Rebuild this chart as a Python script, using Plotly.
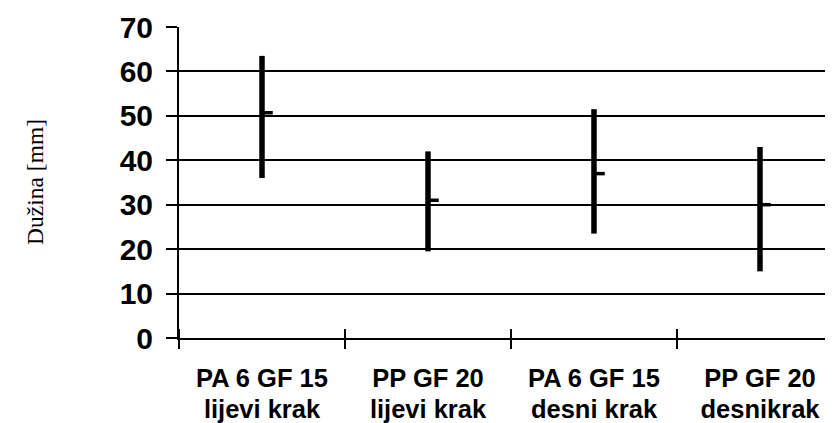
import plotly.graph_objects as go

cat_line1 = ["PA 6 GF 15", "PP GF 20", "PA 6 GF 15", "PP GF 20"]
cat_line2 = ["lijevi krak", "lijevi krak", "desni krak", "desnikrak"]
high = [63.5, 42.0, 51.5, 43.0]
low = [36.0, 19.5, 23.5, 15.0]
close = [50.7, 31.0, 37.0, 30.0]
y_ticks = [0, 10, 20, 30, 40, 50, 60, 70]

pos = list(range(len(cat_line1)))
bounds = [p - 0.5 for p in pos] + [pos[-1] + 0.5]
x_range = [-0.5, 3.488]

# vertical high-low lines built from the data
xs, ys = [], []
for i, (h, l) in enumerate(zip(high, low)):
    xs += [i, i, None]
    ys += [l, h, None]

fig = go.Figure()
fig.add_trace(go.Scatter(x=xs, y=ys, mode="lines",
                         line=dict(color="black", width=5.5),
                         hoverinfo="skip", showlegend=False))
close_offset = 0.027
fig.add_trace(go.Scatter(x=[p + close_offset for p in pos], y=close, mode="markers",
                         marker=dict(symbol="line-ew", size=9,
                                     line=dict(color="black", width=3.5)),
                         showlegend=False))
# helper (invisible) trace so the second x axis (second label line) is drawn
fig.add_trace(go.Scatter(x=pos, y=close, xaxis="x2", mode="markers",
                         marker=dict(opacity=0, size=1), hoverinfo="skip",
                         showlegend=False))

label_font = dict(size=25.5, family="Liberation Sans, Arial", weight="bold", color="black")

fig.update_layout(
    width=833, height=423,
    margin=dict(l=171, r=0, t=19, b=93),
    paper_bgcolor="white", plot_bgcolor="white",
    font=dict(family="Liberation Sans, Arial, sans-serif", color="black"),
    xaxis=dict(range=x_range, tickvals=pos, ticktext=cat_line1,
               ticks="", showgrid=False, zeroline=False,
               showline=True, linecolor="black", linewidth=2,
               tickfont=label_font, ticklabelstandoff=16,
               minor=dict(tickmode="array", tickvals=bounds,
                          ticks="outside", ticklen=9, tickwidth=1.5,
                          tickcolor="black", showgrid=False)),
    xaxis2=dict(range=x_range, overlaying="x", anchor="y", side="bottom",
                tickvals=pos, ticktext=cat_line2, ticks="",
                showgrid=False, zeroline=False, showline=False,
                tickfont=label_font, ticklabelstandoff=53,
                minor=dict(tickmode="array", tickvals=bounds,
                           ticks="inside", ticklen=9, tickwidth=1.5,
                           tickcolor="black", showgrid=False)),
    yaxis=dict(range=[0, 70], tickvals=y_ticks, ticks="outside", ticklen=11,
               tickwidth=2, tickcolor="black",
               showgrid=True, gridcolor="black", gridwidth=2,
               zeroline=False, showline=True, linecolor="black", linewidth=2,
               tickfont=dict(size=30, family="Liberation Sans, Arial", weight="bold"),
               ticklabelstandoff=7),
    annotations=[dict(text="Dužina [mm]", textangle=-90, xref="paper", yref="paper",
                      x=-0.2175, y=0.502, xanchor="center", yanchor="middle",
                      showarrow=False,
                      font=dict(family="Liberation Serif, Times New Roman, serif",
                                size=23.5, color="black"))],
)

fig.write_html("out.html")
